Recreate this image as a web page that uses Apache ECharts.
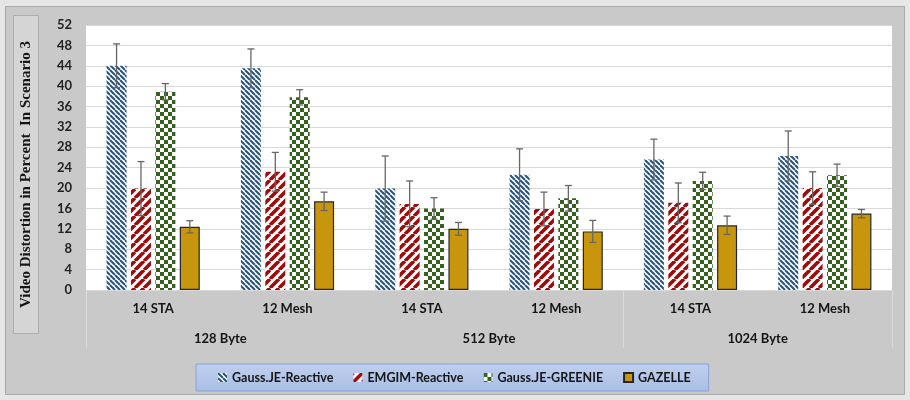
<!DOCTYPE html>
<html>
<head>
<meta charset="utf-8">
<script src="https://cdn.jsdelivr.net/npm/echarts@6/dist/echarts.min.js"></script>
<style>
  html, body { margin: 0; padding: 0; background: #e6e6e6; }
  #chart { width: 910px; height: 400px; }
</style>
</head>
<body>
<div id="chart"></div>
<script>
// Sub-categories (inner axis) and payload-size groups (outer axis)
const subCategories = ['14 STA', '12 Mesh', '14 STA', '12 Mesh', '14 STA', '12 Mesh'];
const groups = ['128 Byte', '512 Byte', '1024 Byte'];
const seriesNames = ['Gauss.JE-Reactive', 'EMGIM-Reactive', 'Gauss.JE-GREENIE', 'GAZELLE'];

// Mean video distortion (%) per sub-category
const gaussReactive = [44.0, 43.5, 19.9, 22.6, 25.6, 26.3];
const emgimReactive = [19.9, 23.2, 16.9, 15.9, 17.1, 20.0];
const gaussGreenie  = [38.9, 37.8, 16.0, 18.0, 21.4, 22.5];
const gazelle       = [12.4, 17.4, 12.0, 11.5, 12.7, 15.0];

// Error bar half-widths (+/-)
const gaussReactiveErr = [4.3, 3.8, 6.4, 5.1, 4.0, 4.9];
const emgimReactiveErr = [5.3, 3.8, 4.5, 3.3, 3.9, 3.2];
const gaussGreenieErr  = [1.6, 1.5, 2.1, 2.5, 1.7, 2.2];
const gazelleErr       = [1.2, 1.8, 1.25, 2.15, 1.8, 0.8];

// Y axis ticks
const yMin = 0, yMax = 52, yStep = 4;

const values = [gaussReactive, emgimReactive, gaussGreenie, gazelle];
const errors = [gaussReactiveErr, emgimReactiveErr, gaussGreenieErr, gazelleErr];

// ---- fill patterns ----
function stripePattern(color, size, lineWidth, forward) {
  const c = document.createElement('canvas');
  c.width = c.height = size;
  const ctx = c.getContext('2d');
  ctx.fillStyle = '#ffffff';
  ctx.fillRect(0, 0, size, size);
  ctx.strokeStyle = color;
  ctx.lineWidth = lineWidth;
  ctx.beginPath();
  for (let k = -1; k <= 1; k++) {
    if (forward) {            // "/" stripes
      ctx.moveTo(k * size, size);
      ctx.lineTo(k * size + size, 0);
    } else {                  // "\" stripes
      ctx.moveTo(k * size, 0);
      ctx.lineTo(k * size + size, size);
    }
  }
  ctx.stroke();
  return c;
}
function checkerPattern(color, cell) {
  const c = document.createElement('canvas');
  c.width = c.height = cell * 2;
  const ctx = c.getContext('2d');
  ctx.fillStyle = '#ffffff';
  ctx.fillRect(0, 0, cell * 2, cell * 2);
  ctx.fillStyle = color;
  ctx.fillRect(0, 0, cell, cell);
  ctx.fillRect(cell, cell, cell, cell);
  return c;
}

const fills = [
  { image: stripePattern('#25527f', 5, 2.0, false), repeat: 'repeat' },
  { image: stripePattern('#9e0b0b', 9, 3.6, true), repeat: 'repeat' },
  { image: checkerPattern('#36601d', 4), repeat: 'repeat' },
  '#c8960c'
];

const BAR_WIDTH = 20;
const BAR_GAP = 0.22;
const gapPx = BAR_WIDTH * BAR_GAP;
const totalW = values.length * BAR_WIDTH + (values.length - 1) * gapPx;
const offsets = values.map((_, s) => -totalW / 2 + s * (BAR_WIDTH + gapPx) + BAR_WIDTH / 2);

const labelFont = { fontFamily: 'Lato', fontWeight: 'bold', fontSize: 13, color: '#151515' };

const barSeries = seriesNames.map((name, s) => ({
  name,
  type: 'bar',
  data: values[s],
  barWidth: BAR_WIDTH,
  barGap: (BAR_GAP * 100) + '%',
  itemStyle: s === 3
    ? { color: fills[s], borderColor: '#262626', borderWidth: 1.2 }
    : { color: fills[s] },
  z: 2
}));

const errorData = [];
values.forEach((arr, s) => arr.forEach((v, i) => errorData.push([i, s, v, errors[s][i]])));

const errorSeries = {
  type: 'custom',
  name: 'error',
  data: errorData,
  z: 5,
  silent: true,
  renderItem(params, api) {
    const i = api.value(0), s = api.value(1), v = api.value(2), e = api.value(3);
    const x = api.coord([i, v])[0] + offsets[s];
    const yTop = api.coord([i, v + e])[1];
    const yBot = api.coord([i, v - e])[1];
    const cap = 3.5;
    const st = { stroke: '#666666', lineWidth: 1.3 };
    return {
      type: 'group',
      children: [
        { type: 'line', shape: { x1: x, y1: yTop, x2: x, y2: yBot }, style: st },
        { type: 'line', shape: { x1: x - cap, y1: yTop, x2: x + cap, y2: yTop }, style: st },
        { type: 'line', shape: { x1: x - cap, y1: yBot, x2: x + cap, y2: yBot }, style: st }
      ]
    };
  }
};

const chart = echarts.init(document.getElementById('chart'), null, { renderer: 'canvas' });
chart.setOption({
  backgroundColor: '#e6e6e6',
  animation: false,
  graphic: [
    {
      type: 'rect', z: -100,
      shape: { x: 5.5, y: 6.5, width: 899, height: 388 },
      style: { fill: '#c9c9c9', stroke: '#a9a9a9', lineWidth: 1 }
    },
    {
      type: 'text', z: 10,
      x: 26, y: 174.5, rotation: Math.PI / 2,
      style: {
        text: 'Video Distortion in Percent  In Scenario 3',
        fontFamily: 'Liberation Serif', fontWeight: 'bold', fontSize: 15,
        fill: '#151515',
        align: 'center', verticalAlign: 'middle',
        width: 301, height: 17, lineHeight: 17,
        padding: [3, 8, 4, 8],
        backgroundColor: '#d5d5d5', borderColor: '#aeaeae', borderWidth: 1
      }
    }
  ],
  grid: {
    left: 86, right: 18, top: 25, bottom: 110,
    show: true, backgroundColor: '#ffffff', borderWidth: 0
  },
  legend: {
    data: seriesNames,
    left: 196, top: 364,
    padding: [7, 18, 7, 22],
    itemWidth: 9, itemHeight: 9, itemGap: 20,
    icon: 'rect',
    backgroundColor: {
      type: 'linear', x: 0, y: 0, x2: 0, y2: 1,
      colorStops: [{ offset: 0, color: '#bfcfee' }, { offset: 1, color: '#aabde5' }]
    },
    borderColor: '#8aa4d6', borderWidth: 1,
    textStyle: { fontFamily: 'Lato', fontWeight: 'bold', fontSize: 12.5, color: '#151515' }
  },
  xAxis: [
    {
      type: 'category',
      data: subCategories,
      position: 'bottom',
      axisLine: { show: false },
      axisTick: { show: false },
      axisLabel: Object.assign({ margin: 12, interval: 0 }, labelFont),
      splitLine: { show: false }
    },
    {
      type: 'category',
      data: groups,
      position: 'bottom',
      axisLine: { show: false },
      axisTick: {
        show: true, length: 58,
        interval: (idx) => idx !== 1,
        lineStyle: { color: '#dadada', width: 1 }
      },
      axisLabel: Object.assign({ margin: 42, interval: 0 }, labelFont),
      splitLine: { show: false }
    }
  ],
  yAxis: {
    type: 'value',
    min: yMin, max: yMax, interval: yStep,
    axisLine: { show: false },
    axisTick: { show: false },
    axisLabel: Object.assign({ margin: 14 }, labelFont, { color: '#222222' }),
    splitLine: { lineStyle: { color: '#d9d9d9', width: 1 } }
  },
  series: barSeries.concat([errorSeries])
});
</script>
</body>
</html>
